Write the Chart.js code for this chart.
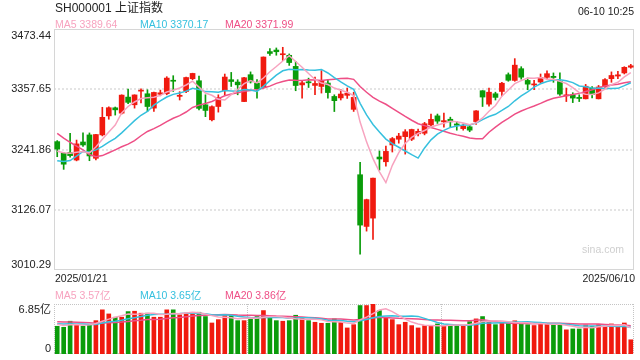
<!DOCTYPE html>
<html>
<head>
<meta charset="utf-8">
<script src="https://cdn.jsdelivr.net/npm/chart.js@4.4.1/dist/chart.umd.min.js"></script>
<style>
body { margin: 0; background: #fff; width: 640px; height: 360px; overflow: hidden; position: relative;
       font-family: "Liberation Sans", "Noto Sans CJK SC", sans-serif; }
canvas { position: absolute; left: 0; }
.t { position: absolute; white-space: nowrap; line-height: 14px; font-size: 10.5px; z-index: 2; }
</style>
</head>
<body>
<canvas id="main" width="640" height="275" style="top:0"></canvas>
<canvas id="vol" width="640" height="64" style="top:296px"></canvas>

<div class="t" style="left:55px;top:1px;font-size:12px;color:#222">SH000001 上证指数</div>
<div class="t" style="right:6px;top:4px;color:#222">06-10 10:25</div>
<div class="t" id="ma5-label" style="left:55px;top:17px;color:#f7a3bf"></div>
<div class="t" id="ma10-label" style="left:140px;top:17px;color:#36c0de"></div>
<div class="t" id="ma20-label" style="left:225px;top:17px;color:#ee4f86"></div>
<div class="t" id="date-first" style="left:55px;top:271px;color:#222"></div>
<div class="t" id="date-last" style="right:5px;top:271px;color:#222"></div>
<div class="t" id="vma5-label" style="left:55px;top:288px;color:#f7a3bf"></div>
<div class="t" id="vma10-label" style="left:140px;top:288px;color:#36c0de"></div>
<div class="t" id="vma20-label" style="left:225px;top:288px;color:#ee4f86"></div>
<div class="t" style="left:582px;top:242px;color:#cfcfcf">sina.com</div>

<script>
const dates = ['01-21','01-22','01-23','01-24','01-27','02-05','02-06','02-07','02-10','02-11',
    '02-12','02-13','02-14','02-17','02-18','02-19','02-20','02-21','02-24','02-25',
    '02-26','02-27','02-28','03-03','03-04','03-05','03-06','03-07','03-10','03-11',
    '03-12','03-13','03-14','03-17','03-18','03-19','03-20','03-21','03-24','03-25',
    '03-26','03-27','03-28','03-31','04-01','04-02','04-03','04-07','04-08','04-09',
    '04-10','04-11','04-14','04-15','04-16','04-17','04-18','04-21','04-22','04-23',
    '04-24','04-25','04-28','04-29','04-30','05-06','05-07','05-08','05-09','05-12',
    '05-13','05-14','05-15','05-16','05-19','05-20','05-21','05-22','05-23','05-26',
    '05-27','05-28','05-29','05-30','06-03','06-04','06-05','06-06','06-09','06-10'];

const openP = [3257, 3234.5, 3236.5, 3221.6, 3256.3, 3269.9, 3225, 3269.9, 3306.5, 3322,
    3311.7, 3342.6, 3327.8, 3354, 3349, 3321.4, 3348, 3349, 3375, 3344,
    3353.4, 3377.9, 3374, 3327.8, 3299, 3324.5, 3354.8, 3376, 3371.5, 3334,
    3385.6, 3369.6, 3361.1, 3430, 3433, 3424, 3422.9, 3401.6, 3366, 3372,
    3365, 3363, 3369.6, 3343.8, 3341, 3346, 3319, 3193.4, 3094, 3110,
    3227.4, 3218.3, 3250.6, 3261.6, 3266.6, 3261.6, 3272, 3273.1, 3289, 3306.5,
    3295, 3300, 3291, 3282, 3285.5, 3295.5, 3354.8, 3329, 3349, 3353.4,
    3385.6, 3374.6, 3397.2, 3374.6, 3366, 3371.5, 3380.5, 3382.5, 3372.7, 3345,
    3347, 3342, 3339.3, 3360, 3339.3, 3363, 3378, 3383, 3389, 3400];

const highP = [3259, 3236, 3273, 3260, 3273.7, 3273.7, 3270.8, 3323, 3323.9, 3323.5,
    3347, 3358, 3347, 3358.5, 3356.7, 3352, 3356, 3381.8, 3383.7, 3353,
    3381, 3388.5, 3383, 3347, 3326, 3347, 3386.9, 3390, 3376, 3380.4,
    3391, 3376, 3419.8, 3435.8, 3437, 3438.3, 3425.5, 3411.3, 3372.7, 3379,
    3381, 3393.4, 3376, 3347, 3357, 3360, 3352, 3217, 3146.5, 3187,
    3239, 3248.6, 3265, 3273, 3280, 3281, 3281, 3294, 3310, 3310,
    3311.7, 3304, 3296, 3291, 3290, 3316.5, 3355, 3360, 3352, 3371,
    3389, 3416.5, 3401, 3379.3, 3375, 3387, 3393, 3389, 3389, 3360,
    3351, 3347, 3367, 3363, 3365, 3378, 3391, 3392, 3401, 3405.5];

const lowP = [3228, 3203.7, 3227, 3220, 3248, 3220.3, 3221.6, 3268, 3300, 3308,
    3310, 3330, 3321.4, 3331.6, 3314.8, 3315, 3345, 3347, 3353.4, 3337,
    3351, 3376, 3318, 3305, 3296.9, 3313.7, 3347, 3363, 3347, 3334,
    3369.6, 3340.7, 3360, 3422.9, 3423, 3412.6, 3403.5, 3354.8, 3340.7, 3361,
    3347, 3350.3, 3340.7, 3314.8, 3337, 3340, 3315, 3040.7, 3085, 3069,
    3202.3, 3210, 3237, 3254, 3233, 3259, 3268, 3270, 3287, 3292,
    3284.7, 3285, 3279, 3279, 3276, 3290, 3324.5, 3325, 3337, 3345,
    3373, 3373, 3377, 3356.7, 3356.7, 3369, 3377, 3371, 3346, 3334,
    3332, 3334, 3339, 3341, 3339, 3361, 3371, 3378, 3387, 3398];

const closeP = [3242.62, 3213.62, 3230.16, 3252.63, 3250.60, 3229.49, 3270.66, 3303.67, 3322.17, 3318.06,
    3346.39, 3332.48, 3346.72, 3355.83, 3324.49, 3351.54, 3350.78, 3379.11, 3373.03, 3346.04,
    3380.21, 3388.06, 3320.90, 3316.93, 3324.21, 3341.96, 3381.10, 3372.55, 3366.16, 3379.83,
    3371.92, 3358.73, 3419.56, 3426.43, 3429.76, 3425.50, 3408.95, 3364.83, 3370.03, 3369.98,
    3368.70, 3373.75, 3351.31, 3335.75, 3348.44, 3350.13, 3342.01, 3096.58, 3145.55, 3186.81,
    3223.64, 3238.23, 3262.81, 3267.66, 3276.00, 3280.34, 3276.73, 3291.43, 3299.76, 3296.36,
    3297.29, 3295.06, 3288.41, 3286.65, 3279.03, 3316.11, 3342.67, 3352.00, 3342.00, 3369.24,
    3374.87, 3403.95, 3380.82, 3367.46, 3367.58, 3380.48, 3387.57, 3380.19, 3348.37, 3346.84,
    3340.69, 3339.93, 3363.45, 3347.49, 3361.98, 3376.20, 3384.10, 3385.36, 3399.77, 3402.77];

// closes before the first visible day, needed for the moving averages
const prevClose = [3393.53, 3393.35, 3398.08, 3400.14, 3407.33, 3351.76, 3262.56, 3211.43, 3206.92, 3229.64,
    3230.17, 3211.39, 3168.52, 3160.76, 3240.94, 3227.12, 3236.03, 3241.82, 3244.38];

// volume in 亿
const volume = [3.80, 3.66, 4.49, 4.02, 3.80, 3.98, 4.57, 6.05, 5.49, 5.04,
    5.04, 5.81, 5.86, 5.59, 5.59, 5.04, 5.04, 6.05, 6.05, 5.36,
    5.59, 5.59, 5.72, 5.13, 4.25, 4.71, 5.40, 5.26, 4.57, 4.57,
    4.90, 5.13, 5.95, 5.13, 4.57, 4.49, 4.57, 5.31, 4.94, 4.57,
    4.35, 4.21, 4.21, 4.81, 4.35, 3.57, 4.02, 6.64, 6.64, 6.85,
    5.95, 4.90, 4.71, 4.02, 4.35, 3.89, 3.57, 3.89, 3.89, 4.12,
    3.89, 3.98, 3.98, 3.89, 4.44, 4.81, 5.13, 4.35, 4.02, 4.35,
    4.25, 4.55, 4.21, 4.02, 3.90, 4.21, 4.21, 4.02, 4.02, 3.31,
    3.43, 3.43, 3.98, 3.80, 4.02, 3.80, 4.12, 3.75, 4.25, 1.95];

const prevVolume = [4.6, 4.9, 4.7, 4.4, 4.6, 5.6, 5.3, 4.9, 4.3, 4.1,
    4.0, 3.9, 4.4, 3.8, 4.8, 4.5, 4.0, 3.8, 4.3];

const priceTicks = [3473.44, 3357.65, 3241.86, 3126.07, 3010.29];
const volTicks = [6.85, 0];

const upColor = '#f01a0f';
const downColor = '#0a9c0a';
const maColors = ['#f7a3bf', '#36c0de', '#ee4f86'];
const fontStack = '"Liberation Sans", "Noto Sans CJK SC", sans-serif';

function movingAvg(prev, vals, n) {
    const all = prev.concat(vals);
    return vals.map((v, i) => {
        const end = prev.length + i + 1;
        let s = 0;
        for (let k = end - n; k < end; k++) s += all[k];
        return s / n;
    });
}

const candleColors = closeP.map((c, i) => c >= openP[i] ? upColor : downColor);
const ma = [5, 10, 20].map(n => movingAvg(prevClose, closeP, n));
const vma = [5, 10, 20].map(n => movingAvg(prevVolume, volume, n));

document.getElementById('ma5-label').textContent = 'MA5 ' + ma[0][ma[0].length - 1].toFixed(2);
document.getElementById('ma10-label').textContent = 'MA10 ' + ma[1][ma[1].length - 1].toFixed(2);
document.getElementById('ma20-label').textContent = 'MA20 ' + ma[2][ma[2].length - 1].toFixed(2);
document.getElementById('vma5-label').textContent = 'MA5 ' + vma[0][vma[0].length - 1].toFixed(2) + '亿';
document.getElementById('vma10-label').textContent = 'MA10 ' + vma[1][vma[1].length - 1].toFixed(2) + '亿';
document.getElementById('vma20-label').textContent = 'MA20 ' + vma[2][vma[2].length - 1].toFixed(2) + '亿';
document.getElementById('date-first').textContent = '2025/' + dates[0].replace('-', '/');
document.getElementById('date-last').textContent = '2025/' + dates[dates.length - 1].replace('-', '/');

function maDatasets(series) {
    return series.map((d, k) => ({
        type: 'line', data: d, borderColor: maColors[k], borderWidth: 1.5,
        pointRadius: 0, tension: 0, order: 0
    }));
}

const mainFrame = {
    id: 'mainFrame',
    beforeDatasetsDraw(chart) {
        const { ctx, chartArea: a, scales: { y } } = chart;
        ctx.save();
        ctx.strokeStyle = '#e4e4e4';
        ctx.lineWidth = 2;
        ctx.setLineDash([2, 2]);
        priceTicks.slice(1, -1).forEach(v => {
            const py = Math.round(y.getPixelForValue(v));
            ctx.beginPath();
            ctx.moveTo(a.left, py);
            ctx.lineTo(a.right, py);
            ctx.stroke();
        });
        ctx.setLineDash([]);
        ctx.lineWidth = 1;
        ctx.strokeStyle = '#d6d6d6';
        ctx.strokeRect(a.left + 0.5, a.top + 0.5, a.right - a.left - 1, a.bottom - a.top - 1);
        ctx.restore();
    },
    afterDraw(chart) {
        const { ctx, chartArea: a, scales: { y } } = chart;
        ctx.save();
        ctx.font = '11px ' + fontStack;
        ctx.fillStyle = '#222';
        ctx.textAlign = 'right';
        priceTicks.forEach((v, i) => {
            ctx.textBaseline = i === 0 ? 'top' : (i === priceTicks.length - 1 ? 'bottom' : 'middle');
            ctx.fillText(v.toFixed(2), a.left - 3, y.getPixelForValue(v) + (i === 0 ? 1 : 0));
        });
        ctx.restore();
    }
};

const volFrame = {
    id: 'volFrame',
    beforeDatasetsDraw(chart) {
        const { ctx, chartArea: a } = chart;
        ctx.save();
        ctx.strokeStyle = '#c4c4c4';
        ctx.lineWidth = 1;
        ctx.setLineDash([1, 1]);
        const w = a.right - a.left;
        const xs = [a.left + 0.5, Math.round(a.left + w / 3) + 0.5, Math.round(a.left + 2 * w / 3) + 0.5, a.right - 0.5];
        xs.forEach(x => {
            ctx.beginPath();
            ctx.moveTo(x, a.top);
            ctx.lineTo(x, a.bottom);
            ctx.stroke();
        });
        [a.top + 0.5, a.bottom - 0.5].forEach(py => {
            ctx.beginPath();
            ctx.moveTo(a.left, py);
            ctx.lineTo(a.right, py);
            ctx.stroke();
        });
        ctx.restore();
    },
    afterDraw(chart) {
        const { ctx, chartArea: a, scales: { y } } = chart;
        ctx.save();
        ctx.font = '11px ' + fontStack;
        ctx.fillStyle = '#222';
        ctx.textAlign = 'right';
        ctx.textBaseline = 'top';
        ctx.fillText(volTicks[0].toFixed(2) + '亿', a.left - 3, y.getPixelForValue(volTicks[0]));
        ctx.textBaseline = 'bottom';
        ctx.fillText(String(volTicks[1]), a.left - 3, y.getPixelForValue(volTicks[1]));
        ctx.restore();
    }
};

new Chart(document.getElementById('main'), {
    type: 'bar',
    data: {
        labels: dates,
        datasets: [
            ...maDatasets(ma),
            {
                data: openP.map((o, i) => [o, closeP[i]]),
                backgroundColor: candleColors,
                barThickness: 5, minBarLength: 1, grouped: false, order: 1
            },
            {
                data: lowP.map((l, i) => [l, highP[i]]),
                backgroundColor: candleColors,
                barThickness: 1, grouped: false, order: 2
            }
        ]
    },
    options: {
        responsive: false, animation: false, events: [],
        layout: { padding: { left: 54, right: 6, top: 29, bottom: 5 } },
        plugins: { legend: { display: false }, tooltip: { enabled: false } },
        scales: {
            x: { display: false, offset: true },
            y: { display: false, min: priceTicks[priceTicks.length - 1], max: priceTicks[0] }
        }
    },
    plugins: [mainFrame]
});

new Chart(document.getElementById('vol'), {
    type: 'bar',
    data: {
        labels: dates,
        datasets: [
            ...maDatasets(vma),
            {
                data: volume,
                backgroundColor: candleColors,
                barThickness: 4, grouped: false, order: 1
            }
        ]
    },
    options: {
        responsive: false, animation: false, events: [],
        layout: { padding: { left: 54, right: 6, top: 8, bottom: 6 } },
        plugins: { legend: { display: false }, tooltip: { enabled: false } },
        scales: {
            x: { display: false, offset: true },
            y: { display: false, min: 0, max: volTicks[0] }
        }
    },
    plugins: [volFrame]
});
</script>
</body>
</html>
